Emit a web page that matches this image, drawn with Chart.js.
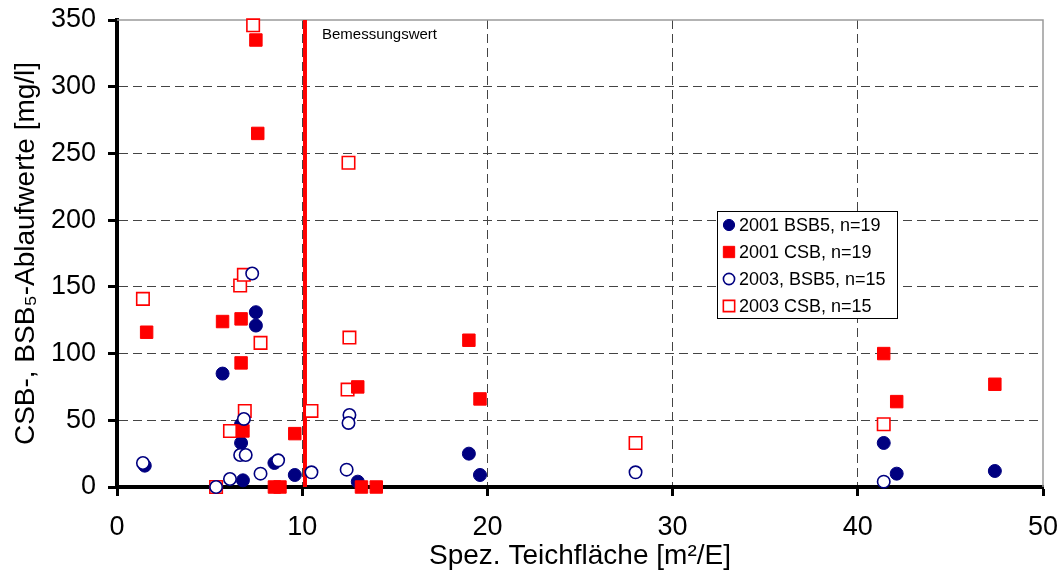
<!DOCTYPE html>
<html lang="de">
<head>
<meta charset="utf-8">
<title>Ablaufwerte und spezifische Teichfläche</title>
<script src="https://cdn.jsdelivr.net/npm/chart.js@4.4.1/dist/chart.umd.min.js"></script>
<style>
  html, body { margin: 0; padding: 0; background: #fff; }
  #wrap { position: relative; width: 1062px; height: 574px; }
</style>
</head>
<body>
<div id="wrap"><canvas id="chart"></canvas></div>
<script>
// Messwerte: spezifische Teichfläche [m²/E] und Ablaufkonzentration [mg/l]
const bsb2001X = [1.5, 5.7, 6.7, 6.7, 6.8, 7.5, 7.5, 8.5, 9.6, 13.0, 19.0, 19.6, 41.4, 42.1, 47.4];
const bsb2001Y = [16, 85, 47, 33, 5, 131, 121, 18, 9, 4, 25, 9, 33, 10, 12];

const csb2001X = [1.6, 5.7, 6.7, 6.7, 6.8, 7.5, 7.6, 8.5, 8.8, 9.6, 13.0, 13.2, 14.0, 19.0, 19.6, 41.4, 42.1, 47.4];
const csb2001Y = [116, 124, 126, 93, 42, 335, 265, 0, 0, 40, 75, 0, 0, 110, 66, 100, 64, 77];

const bsb2003X = [1.4, 5.35, 6.1, 6.65, 6.95, 6.85, 7.3, 7.75, 8.7, 10.5, 12.4, 12.55, 12.5, 28.0, 41.4];
const bsb2003Y = [18, 0, 6, 24, 24, 51, 160, 10, 20, 11, 13, 54, 48, 11, 4];

const csb2003X = [1.4, 5.35, 6.1, 6.65, 6.85, 6.9, 7.35, 7.75, 10.5, 12.45, 12.55, 12.5, 28.0, 41.4];
const csb2003Y = [141, 0, 42, 151, 159, 57, 346, 108, 57, 73, 112, 243, 33, 47];

const seriesLabels = ['2001 BSB5, n=19', '2001 CSB, n=19', '2003, BSB5, n=15', '2003 CSB, n=15'];

const designValue = 10.15;       // Bemessungswert der Teichfläche
const xTicks = [0, 10, 20, 30, 40, 50];
const yTicks = [0, 50, 100, 150, 200, 250, 300, 350];

const NAVY = '#000080';
const RED = '#ff0000';
const FONT = '"Liberation Sans", Arial, Helvetica, sans-serif';

const toPoints = (xs, ys) => xs.map((x, i) => ({ x, y: ys[i] }));

// Marker styles, shared by the datasets and the legend box
const styles = [
    { pointStyle: 'circle', radius: 6.5, fill: NAVY, stroke: NAVY, width: 1 },
    { pointStyle: 'rect', radius: 8.8, fill: RED, stroke: RED, width: 1 },
    { pointStyle: 'circle', radius: 6.2, fill: '#fff', stroke: NAVY, width: 1.6 },
    { pointStyle: 'rect', radius: 8.8, fill: '#fff', stroke: RED, width: 1.6 }
];
const drawOrder = [3, 1, 0, 2]; // lower = drawn on top

const seriesData = [
    toPoints(bsb2001X, bsb2001Y),
    toPoints(csb2001X, csb2001Y),
    toPoints(bsb2003X, bsb2003Y),
    toPoints(csb2003X, csb2003Y)
];

const datasets = seriesData.map((data, i) => ({
    type: 'scatter',
    label: seriesLabels[i],
    data,
    order: drawOrder[i],
    clip: false,
    pointStyle: styles[i].pointStyle,
    pointRadius: styles[i].radius,
    pointBackgroundColor: styles[i].fill,
    pointBorderColor: styles[i].stroke,
    pointBorderWidth: styles[i].width
}));

// vertical line at the design value
datasets.push({
    type: 'line',
    label: 'Bemessungswert',
    data: [{ x: designValue, y: 0 }, { x: designValue, y: 350 }],
    order: 5,
    borderColor: RED,
    borderWidth: 4,
    pointRadius: 0,
    clip: false
});

const frameAndLabels = {
    id: 'frameAndLabels',
    beforeDatasetsDraw(chart) {
        const { ctx, chartArea: a } = chart;
        ctx.save();
        ctx.strokeStyle = '#9a9a9a';
        ctx.lineWidth = 1.5;
        ctx.beginPath();
        ctx.moveTo(a.left, a.top);
        ctx.lineTo(a.right, a.top);
        ctx.lineTo(a.right, a.bottom);
        ctx.stroke();
        ctx.restore();
    },
    afterDatasetsDraw(chart) {
        const { ctx, chartArea: a, scales } = chart;
        ctx.save();

        // label next to the design line
        ctx.fillStyle = '#000';
        ctx.font = '15px ' + FONT;
        ctx.textBaseline = 'middle';
        ctx.textAlign = 'left';
        ctx.fillText('Bemessungswert', scales.x.getPixelForValue(designValue) + 17, a.top + 15);

        // legend box
        const left = a.left + 600, top = a.top + 191, w = 180, h = 107;
        ctx.fillStyle = '#fff';
        ctx.fillRect(left, top, w, h);
        ctx.strokeStyle = '#000';
        ctx.lineWidth = 1;
        ctx.strokeRect(left + 0.5, top + 0.5, w, h);

        ctx.font = '18px ' + FONT;
        seriesLabels.forEach((label, i) => {
            const y = top + 14 + i * 27;
            const s = styles[i];
            ctx.fillStyle = s.fill;
            ctx.strokeStyle = s.stroke;
            ctx.lineWidth = s.width;
            Chart.helpers.drawPoint(ctx, {
                pointStyle: s.pointStyle,
                radius: s.pointStyle === 'rect' ? 8 : 5.6,
                rotation: 0,
                borderWidth: s.width
            }, left + 12, y);
            ctx.fillStyle = '#000';
            ctx.fillText(label, left + 22, y + 1);
        });
        ctx.restore();
    }
};

const tickFont = { family: FONT, size: 27 };
const titleFont = { family: FONT, size: 28 };

new Chart(document.getElementById('chart'), {
    data: { datasets },
    options: {
        responsive: true,
        maintainAspectRatio: false,
        animation: false,
        layout: { padding: { top: 20, right: 19, left: 0, bottom: 0 } },
        plugins: {
            legend: { display: false },
            tooltip: { enabled: false }
        },
        scales: {
            x: {
                type: 'linear',
                min: 0,
                max: 50,
                afterFit(scale) {
                    scale.height = 87;
                    scale.paddingLeft = 0;
                    scale.paddingRight = 0;
                },
                afterBuildTicks(scale) { scale.ticks = xTicks.map(v => ({ value: v })); },
                ticks: { color: '#000', font: tickFont, padding: 15 },
                grid: {
                    color: c => (c.tick && c.tick.value > 0 && c.tick.value < 50) ? '#444' : 'rgba(0,0,0,0)',
                    lineWidth: 1,
                    tickColor: '#000',
                    tickWidth: 3,
                    tickLength: 9
                },
                border: { display: true, color: '#000', width: 4, dash: [9, 5] },
                title: {
                    display: true,
                    text: 'Spez. Teichfläche [m²/E]',
                    color: '#000',
                    font: titleFont,
                    padding: { top: 0, bottom: 1 }
                }
            },
            y: {
                type: 'linear',
                min: 0,
                max: 350,
                afterFit(scale) {
                    scale.width = 117;
                    scale.paddingTop = 0;
                    scale.paddingBottom = 0;
                },
                afterBuildTicks(scale) { scale.ticks = yTicks.map(v => ({ value: v })); },
                ticks: { color: '#000', font: tickFont, padding: 12 },
                grid: {
                    color: c => (c.tick && c.tick.value > 0 && c.tick.value < 350) ? '#444' : 'rgba(0,0,0,0)',
                    lineWidth: 1,
                    tickColor: '#000',
                    tickWidth: 3,
                    tickLength: 9
                },
                border: { display: true, color: '#000', width: 4, dash: [9, 5] },
                title: {
                    display: true,
                    text: 'CSB-, BSB₅-Ablaufwerte [mg/l]',
                    color: '#000',
                    font: titleFont,
                    padding: { top: 9, bottom: 0 }
                }
            }
        }
    },
    plugins: [frameAndLabels]
});
</script>
</body>
</html>
